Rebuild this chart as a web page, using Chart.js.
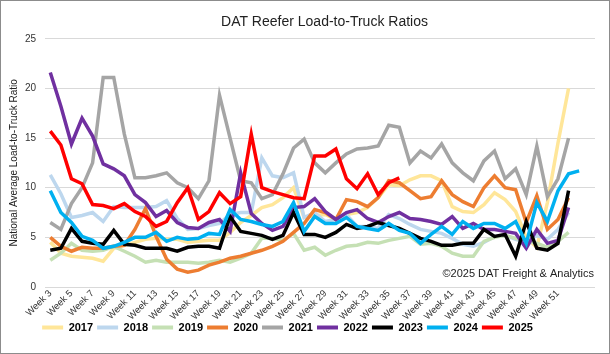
<!DOCTYPE html>
<html>
<head>
<meta charset="utf-8">
<title>DAT Reefer Load-to-Truck Ratios</title>
<script src="https://cdn.jsdelivr.net/npm/chart.js@4.4.1/dist/chart.umd.min.js"></script>
<style>
  html, body { margin: 0; padding: 0; background: #fff; }
  #wrap { width: 610px; height: 354px; }
</style>
</head>
<body>
<div id="wrap"><canvas id="reeferChart" width="610" height="354"></canvas></div>
<script>
// Week labels (Week 3 .. Week 54)
const weeks = [];
for (let w = 3; w <= 54; w++) weeks.push('Week ' + w);
const lastShownLabel = 'Week 51';

// Values, week 3 onwards
const y2017 = [4.5, 3.4, 3.1, 3.0, 2.9, 2.6, 3.9, 4.2, 4.5, 4.8, 4.9, 4.8, 4.8, 4.5, 4.6, 4.7, 4.7, 5.5, 6.5, 7.2, 8.0, 8.3, 9.0, 10.0, 7.0, 7.2, 7.3, 6.8, 7.3, 7.5, 8.0, 9.0, 10.3, 10.2, 10.8, 11.2, 11.2, 10.7, 8.1, 7.6, 7.5, 8.3, 9.5, 8.8, 7.6, 5.0, 4.0, 8.5, 14.5, 20.0];
const y2018 = [11.3, 9.4, 7.0, 7.2, 7.5, 6.6, 8.1, 8.0, 8.0, 8.0, 8.1, 8.7, 6.9, 5.8, 5.9, 6.2, 6.4, 7.3, 7.5, 7.5, 13.0, 11.2, 11.0, 11.5, 7.0, 7.5, 6.6, 6.8, 7.3, 6.1, 6.1, 5.9, 7.3, 6.9, 6.3, 5.8, 5.6, 5.4, 4.9, 4.3, 4.1, 4.5, 5.1, 5.2, 4.8, 4.5, 5.2, 4.8, 5.8, 7.5];
const y2019 = [2.7, 3.4, 4.4, 3.7, 3.6, 3.7, 4.1, 3.6, 3.1, 2.5, 2.7, 2.5, 2.5, 2.5, 2.4, 2.5, 2.7, 2.5, 2.9, 3.4, 4.9, 4.9, 4.7, 5.4, 3.7, 4.0, 3.2, 3.7, 4.1, 4.2, 4.5, 4.4, 4.7, 4.9, 5.1, 4.3, 4.4, 4.1, 3.4, 3.1, 3.1, 4.6, 5.0, 5.2, 4.9, 4.6, 4.4, 4.0, 4.6, 5.5];
const y2020 = [5.0, 4.1, 3.6, 4.0, 3.9, 3.9, 4.1, 4.2, 5.8, 7.9, 5.1, 2.8, 1.8, 1.5, 1.7, 2.2, 2.5, 2.9, 3.1, 3.4, 3.7, 4.1, 4.6, 5.5, 6.4, 7.8, 7.5, 6.8, 8.8, 8.6, 8.1, 9.0, 10.7, 10.5, 9.7, 8.9, 9.1, 10.7, 9.3, 8.6, 8.1, 10.0, 11.2, 10.0, 9.8, 6.5, 9.2, 5.8, 6.8, 9.0];
const y2021 = [6.5, 5.8, 8.4, 10.0, 12.5, 21.1, 21.1, 15.4, 11.0, 11.0, 11.2, 11.5, 10.5, 10.0, 8.9, 10.7, 19.3, 15.0, 10.7, 10.5, 8.9, 9.3, 11.4, 14.0, 14.9, 12.5, 11.5, 12.5, 13.4, 13.9, 14.0, 14.2, 16.3, 16.1, 12.5, 13.7, 13.0, 14.4, 12.5, 11.5, 10.7, 12.7, 13.7, 10.9, 11.9, 9.3, 14.2, 9.1, 10.9, 15.0];
const y2022 = [21.6, 18.2, 14.4, 17.0, 15.2, 12.4, 11.9, 11.2, 9.3, 8.5, 7.1, 7.7, 6.5, 6.0, 5.9, 6.5, 6.8, 5.6, 11.5, 7.4, 6.4, 5.7, 6.1, 8.0, 8.1, 8.9, 7.6, 6.8, 7.5, 7.8, 6.9, 6.5, 7.1, 7.5, 6.9, 6.8, 6.6, 6.3, 7.1, 5.9, 6.4, 5.8, 5.8, 5.6, 5.4, 3.9, 5.8, 4.4, 4.7, 8.0];
const y2023 = [3.7, 3.9, 5.9, 4.6, 4.4, 4.3, 5.7, 4.3, 4.2, 3.9, 3.9, 3.9, 3.6, 4.0, 4.1, 4.1, 3.9, 7.1, 5.6, 5.4, 5.2, 4.8, 5.2, 7.5, 5.3, 5.3, 5.0, 5.5, 6.3, 5.9, 6.1, 6.5, 6.2, 5.9, 5.4, 4.9, 4.6, 4.2, 4.2, 4.4, 4.4, 5.8, 5.1, 5.3, 3.1, 6.6, 3.9, 3.7, 4.4, 9.7];
const y2024 = [9.7, 7.5, 6.5, 5.1, 4.7, 3.9, 4.1, 4.5, 5.0, 5.0, 5.5, 4.6, 5.0, 4.8, 4.9, 5.4, 5.3, 7.8, 6.8, 6.6, 6.3, 6.1, 6.6, 8.5, 5.6, 7.1, 6.4, 6.4, 7.0, 6.1, 5.9, 5.7, 6.4, 5.7, 5.4, 4.4, 5.3, 6.1, 5.3, 6.6, 5.9, 6.4, 6.4, 5.9, 6.6, 4.4, 8.5, 6.6, 9.7, 11.4, 11.7];
const y2025 = [15.7, 14.3, 10.9, 10.4, 8.3, 8.2, 7.9, 8.4, 7.6, 7.1, 6.1, 6.6, 8.5, 10.0, 6.8, 7.6, 9.5, 8.4, 9.1, 15.4, 10.0, 9.6, 9.3, 9.0, 8.9, 13.2, 13.2, 13.9, 10.9, 9.9, 11.4, 9.3, 10.5, 11.0];

const years = ['2017', '2018', '2019', '2020', '2021', '2022', '2023', '2024', '2025'];
const series = [y2017, y2018, y2019, y2020, y2021, y2022, y2023, y2024, y2025];
const colors = ['#FFE699', '#BDD7EE', '#C5E0B4', '#ED7D31', '#A5A5A5', '#7030A0', '#000000', '#00B0F0', '#FF0000'];

const FONT = "'Liberation Sans', Arial, sans-serif";

// white background + thin grey frame like the Excel chart area
const frame = {
  id: 'frame',
  beforeDraw(chart) {
    const c = chart.ctx;
    c.save();
    c.fillStyle = '#fff';
    c.fillRect(0, 0, chart.width, chart.height);
    c.strokeStyle = '#8c8c8c';
    c.lineWidth = 1;
    c.strokeRect(0.5, 0.5, chart.width - 1, chart.height - 1);
    c.restore();
  },
  afterLayout(chart) {
    // nudge legend (left + up) and title (right) to where the original has them
    chart.legend.left -= 12;
    chart.legend.right -= 12;
    chart.legend.top -= 7;
    chart.legend.bottom -= 7;
    chart.titleBlock.left += 25;
    chart.titleBlock.right += 25;
  },
  afterDraw(chart) {
    const c = chart.ctx;
    c.save();
    c.font = '11px ' + FONT;
    c.fillStyle = '#222';
    c.textAlign = 'right';
    c.textBaseline = 'middle';
    c.fillText('\u00A92025 DAT Freight & Analytics', chart.chartArea.right - 1, 274);
    c.restore();
  }
};

const ctx = document.getElementById('reeferChart').getContext('2d');
const reeferChart = new Chart(ctx, {
  type: 'line',
  data: {
    labels: weeks,
    datasets: years.map((yr, i) => ({
      label: yr,
      data: series[i],
      borderColor: colors[i],
      backgroundColor: colors[i],
      borderWidth: 3.5,
      pointRadius: 0,
      tension: 0,
      fill: false,
      order: years.length - 1 - i // later years drawn on top
    }))
  },
  options: {
    responsive: false,
    animation: false,
    devicePixelRatio: 1,
    layout: { padding: { left: 4, right: 15, top: 0, bottom: 4 } },
    plugins: {
      title: {
        display: true,
        text: 'DAT Reefer Load-to-Truck Ratios',
        color: '#222',
        font: { family: FONT, size: 14, weight: 'normal' },
        padding: { top: 14, bottom: 8 }
      },
      legend: {
        position: 'bottom',
        labels: {
          boxWidth: 21,
          boxHeight: 4,
          padding: 4,
          color: '#000',
          font: { family: FONT, size: 11, weight: 'bold' },
          sort: (a, b) => a.datasetIndex - b.datasetIndex,
          generateLabels: chart => Chart.defaults.plugins.legend.labels.generateLabels(chart)
            .map(l => Object.assign(l, { lineWidth: 0 }))
        }
      },
      tooltip: { enabled: false }
    },
    scales: {
      x: {
        offset: true,
        grid: { display: false, drawTicks: false },
        border: { display: false },
        ticks: {
          autoSkip: false,
          maxRotation: 45,
          minRotation: 45,
          padding: 1,
          color: '#333',
          font: { family: FONT, size: 9.5 },
          callback: function (val, i) {
            const lab = this.getLabelForValue(val);
            return (i % 2 === 0 && i <= weeks.indexOf(lastShownLabel)) ? lab : '';
          }
        },
        afterFit: s => { s.height = 38; }
      },
      y: {
        min: 0,
        max: 25,
        grid: { color: '#d9d9d9', drawTicks: false },
        border: { display: false },
        ticks: { stepSize: 5, padding: 9, color: '#333', font: { family: FONT, size: 10 } },
        title: {
          display: true,
          text: 'National Average Load-to-Truck Ratio',
          color: '#222',
          font: { family: FONT, size: 10 },
          padding: { top: 4, bottom: 0 }
        },
        afterFit: s => { s.width = 41; }
      }
    }
  },
  plugins: [frame]
});
</script>
</body>
</html>
